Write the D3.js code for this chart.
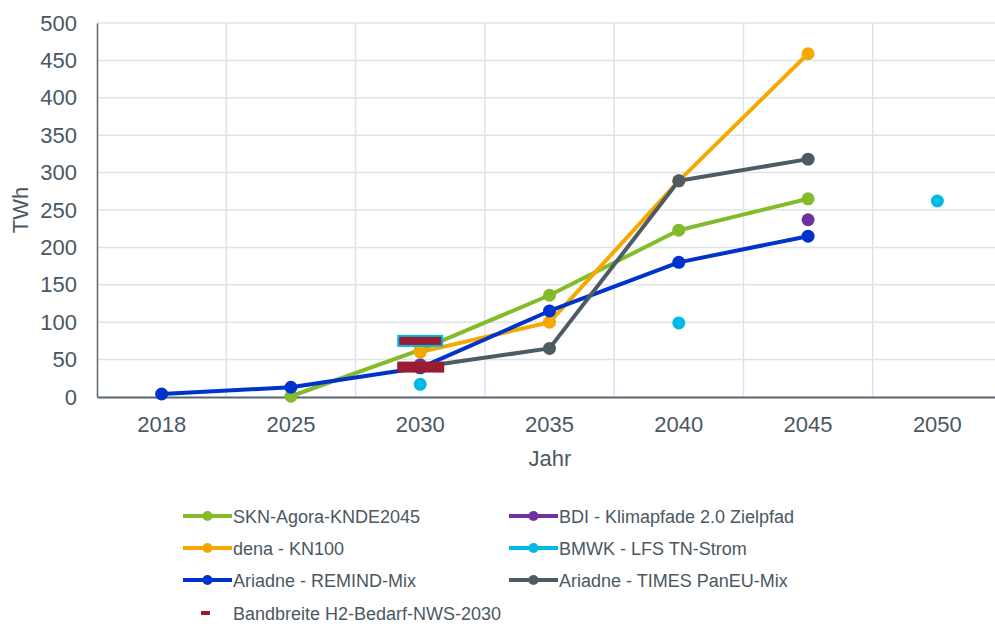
<!DOCTYPE html>
<html>
<head>
<meta charset="utf-8">
<script src="https://cdn.jsdelivr.net/npm/d3@7"></script>
<style>
  body { margin: 0; background: #fff; }
  text { font-family: Arial, "Liberation Sans", sans-serif; }
</style>
</head>
<body>
<div id="app"></div>
<script>
const years = ['2018', '2025', '2030', '2035', '2040', '2045', '2050'];
const yTicks = [0, 50, 100, 150, 200, 250, 300, 350, 400, 450, 500];

const agora   = [null, 1, 63, 136, 223, 265, null];
const bdi     = [null, null, 43, null, null, 237, null];
const dena    = [null, null, 60, 100, 289, 459, null];
const bmwk    = [null, null, 17, null, 99, null, 262];
const remind  = [4, 13, 39, 115, 180, 215, null];
const times   = [null, null, 40, 65, 289, 318, null];
const bandLow = 40;
const bandHigh = 75;

const series = [
    { name: 'SKN-Agora-KNDE2045', values: agora, color: '#84bb2a' },
    { name: 'BDI - Klimapfade 2.0 Zielpfad', values: bdi, color: '#7030a0' },
    { name: 'dena - KN100', values: dena, color: '#f5a800' },
    { name: 'BMWK - LFS TN-Strom', values: bmwk, color: '#00b9e4' },
    { name: 'Ariadne - REMIND-Mix', values: remind, color: '#0033cc' },
    { name: 'Ariadne - TIMES PanEU-Mix', values: times, color: '#4d5b63' }
];

const textColor = '#4a5862';
const width = 995, height = 624;
const margin = { top: 23, right: -7, bottom: 227, left: 97 };
const svg = d3.select('#app').append('svg')
    .attr('width', width).attr('height', height);

const x = d3.scaleBand().domain(years).range([margin.left, width - margin.right]);
const y = d3.scaleLinear().domain([0, 500]).range([height - margin.bottom, margin.top]);
const cx = d => x(d) + x.bandwidth() / 2;

// grid
svg.append('g').selectAll('line').data(yTicks.slice(1)).join('line')
    .attr('x1', margin.left).attr('x2', width)
    .attr('y1', d => y(d)).attr('y2', d => y(d))
    .attr('stroke', '#dfe3e8').attr('stroke-width', 1.5);
svg.append('g').selectAll('line').data(years.slice(1)).join('line')
    .attr('x1', d => x(d)).attr('x2', d => x(d))
    .attr('y1', y(0)).attr('y2', y(500))
    .attr('stroke', '#dfe3e8').attr('stroke-width', 1.5);

// axes
const yAxis = svg.append('g').attr('transform', `translate(${margin.left},0)`)
    .call(d3.axisLeft(y).tickValues(yTicks).tickSize(0).tickPadding(20));
yAxis.select('.domain').attr('stroke', '#5b6770').attr('stroke-width', 1.5);
yAxis.selectAll('text').attr('font-size', 22).attr('fill', textColor)
    .attr('font-family', 'Arial, "Liberation Sans", sans-serif');

const xAxis = svg.append('g').attr('transform', `translate(0,${y(0)})`)
    .call(d3.axisBottom(x).tickSize(0).tickPadding(19));
xAxis.select('.domain').attr('stroke', '#5b6770').attr('stroke-width', 2);
xAxis.selectAll('text').attr('font-size', 22).attr('fill', textColor)
    .attr('font-family', 'Arial, "Liberation Sans", sans-serif');

svg.append('text')
    .attr('x', 550).attr('y', 466)
    .attr('text-anchor', 'middle').attr('font-size', 22).attr('fill', textColor)
    .text('Jahr');
svg.append('text')
    .attr('transform', `translate(28,${(y(0) + y(500)) / 2}) rotate(-90)`)
    .attr('text-anchor', 'middle').attr('font-size', 22).attr('fill', textColor)
    .text('TWh');

// lines and markers
const line = d3.line()
    .defined(d => d.v !== null)
    .x(d => cx(d.year))
    .y(d => y(d.v));

series.forEach(s => {
    const pts = years.map((yr, i) => ({ year: yr, v: s.values[i] }));
    const g = svg.append('g');
    g.append('path').datum(pts)
        .attr('fill', 'none')
        .attr('stroke', s.color)
        .attr('stroke-width', 4)
        .attr('stroke-linejoin', 'round')
        .attr('d', line);
    g.selectAll('circle').data(pts.filter(d => d.v !== null)).join('circle')
        .attr('cx', d => cx(d.year))
        .attr('cy', d => y(d.v))
        .attr('r', 6.5)
        .attr('fill', s.color);
});

// Bandbreite markers at 2030
const bandColor = '#9b1b30';
svg.append('rect')
    .attr('x', cx('2030') - 22).attr('y', y(bandHigh) - 5)
    .attr('width', 44).attr('height', 10)
    .attr('fill', bandColor).attr('stroke', '#00b9e4').attr('stroke-width', 2);
svg.append('rect')
    .attr('x', cx('2030') - 23).attr('y', y(bandLow) - 5.5)
    .attr('width', 47).attr('height', 11)
    .attr('fill', bandColor);

// legend
const legendItems = [
    { s: series[0], col: 0, row: 0 },
    { s: series[1], col: 1, row: 0 },
    { s: series[2], col: 0, row: 1 },
    { s: series[3], col: 1, row: 1 },
    { s: series[4], col: 0, row: 2 },
    { s: series[5], col: 1, row: 2 }
];
const colX = [183, 509];
const rowY = [516, 548, 580, 613];
const legend = svg.append('g');
legendItems.forEach(it => {
    const lx = colX[it.col], ly = rowY[it.row];
    legend.append('line')
        .attr('x1', lx).attr('x2', lx + 49)
        .attr('y1', ly).attr('y2', ly)
        .attr('stroke', it.s.color).attr('stroke-width', 4);
    legend.append('circle')
        .attr('cx', lx + 24.5).attr('cy', ly).attr('r', 5)
        .attr('fill', it.s.color);
    legend.append('text')
        .attr('x', lx + 50).attr('y', ly + 6.5)
        .attr('font-size', 18).attr('fill', textColor)
        .text(it.s.name);
});
legend.append('rect')
    .attr('x', 201).attr('y', rowY[3] - 2).attr('width', 9).attr('height', 4)
    .attr('fill', bandColor);
legend.append('text')
    .attr('x', 233).attr('y', rowY[3] + 6.5)
    .attr('font-size', 18).attr('fill', textColor)
    .text('Bandbreite H2-Bedarf-NWS-2030');
</script>
</body>
</html>
